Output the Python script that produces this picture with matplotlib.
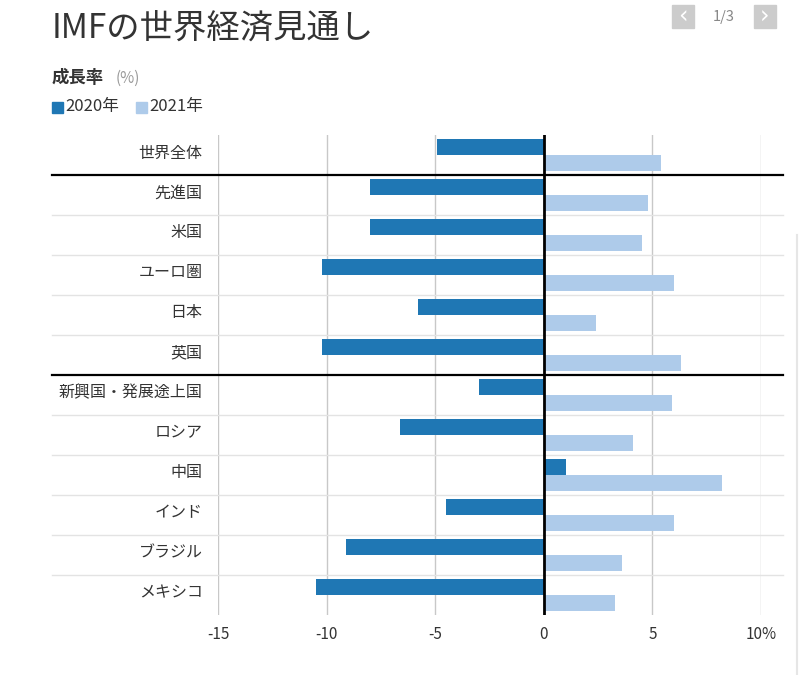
import matplotlib.pyplot as plt
import numpy as np

plt.rcParams["font.family"] = ["Noto Sans CJK JP", "DejaVu Sans"]

# IMF growth forecasts (%)
regions = ["世界全体", "先進国", "米国", "ユーロ圏", "日本", "英国",
           "新興国・発展途上国", "ロシア", "中国", "インド", "ブラジル", "メキシコ"]
g2020 = [-4.9, -8.0, -8.0, -10.2, -5.8, -10.2, -3.0, -6.6, 1.0, -4.5, -9.1, -10.5]
g2021 = [5.4, 4.8, 4.5, 6.0, 2.4, 6.3, 5.9, 4.1, 8.2, 6.0, 3.6, 3.3]
xticks = [-15, -10, -5, 0, 5, 10]
xticklabels = ["-15", "-10", "-5", "0", "5", "10%"]
group_breaks = [0.5, 5.5]  # black lines after 世界全体 and 英国

c2020 = "#1f77b4"
c2021 = "#aecbea"
text_col = "#333333"

W, H = 800, 675
fig = plt.figure(figsize=(W / 100, H / 100), dpi=100)

# axes placed in pixel coordinates
x0, x1, y0, y1 = 218, 761, 135, 615
ax = fig.add_axes([x0 / W, 1 - y1 / H, (x1 - x0) / W, (y1 - y0) / H])

y = np.arange(len(regions))
ax.barh(y - 0.2, g2020, height=0.38, color=c2020, zorder=2)
ax.barh(y + 0.2, g2021, height=0.38, color=c2021, zorder=2)

ax.set_xlim(-15, 10)
ax.set_ylim(len(regions) - 0.5, -0.5)

for t in xticks:
    if t == 0:
        ax.axvline(t, color="black", lw=2, zorder=3)
    else:
        ax.axvline(t, color="#c8c8c8", lw=1, zorder=1)

# row separators, extending past the plot area
lx0 = (52 - x0) / (x1 - x0)
lx1 = (783 - x0) / (x1 - x0)
for i in range(len(regions) - 1):
    b = i + 0.5
    if b in group_breaks:
        ax.axhline(b, xmin=lx0, xmax=lx1, color="black", lw=1.6, clip_on=False, zorder=4)
    else:
        ax.axhline(b, xmin=lx0, xmax=lx1, color="#e3e3e3", lw=1, clip_on=False, zorder=1)

for i, name in enumerate(regions):
    ax.annotate(name, xy=(-15, i), xytext=(-11, 1.5), textcoords="offset points",
                ha="right", va="center", fontsize=11.5, color=text_col)

ax.set_xticks(xticks)
ax.set_xticklabels(xticklabels, fontsize=11, color=text_col)
ax.tick_params(axis="x", length=0, pad=8)
ax.set_yticks([])
for s in ax.spines.values():
    s.set_visible(False)

# header
fig.text(52 / W, 1 - 28 / H, "IMFの世界経済見通し", fontsize=24, color=text_col,
         ha="left", va="center")
fig.text(52 / W, 1 - 78 / H, "成長率", fontsize=12.5, fontweight="bold",
         color=text_col, ha="left", va="center")
fig.text(116 / W, 1 - 78 / H, "(%)", fontsize=11, color="#9a9a9a",
         ha="left", va="center")

# legend
for lx, col, lab in [(52, c2020, "2020年"), (136, c2021, "2021年")]:
    fig.patches.append(plt.Rectangle((lx / W, 1 - 113 / H), 11 / W, 11 / H,
                                     transform=fig.transFigure, color=col))
    fig.text((lx + 13) / W, 1 - 107 / H, lab, fontsize=12, color=text_col,
             ha="left", va="center")

# pager buttons
for bx, sym in [(672, "‹"), (754, "›")]:
    fig.patches.append(plt.Rectangle((bx / W, 1 - 28 / H), 22 / W, 23 / H,
                                     transform=fig.transFigure, color="#cccccc"))
    fig.text((bx + 11) / W, 1 - 16.5 / H, sym, fontsize=17, color="white",
             ha="center", va="center", family="DejaVu Sans")
fig.text(724 / W, 1 - 17 / H, "1/3", fontsize=10.5, color="#888888",
         ha="center", va="center")

# faint scrollbar edge on the right
fig.lines.append(plt.Line2D([797 / W, 797 / W], [1 - 235 / H, 0],
                            transform=fig.transFigure, color="#e6e6e6", lw=1.5))

fig.savefig("out.png", dpi=100, facecolor="white")
